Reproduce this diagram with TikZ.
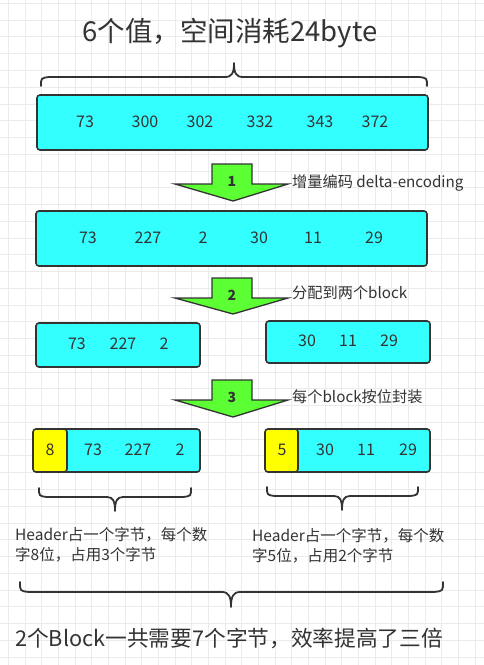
\documentclass[tikz,border=0pt]{standalone}
\usepackage{fontspec}
\setmainfont{Noto Sans CJK SC}
\definecolor{cyanc}{HTML}{33FFFF}
\definecolor{yellowc}{HTML}{FFFF00}
\definecolor{greenc}{HTML}{5CFF33}
\definecolor{linec}{HTML}{333333}
\definecolor{txt}{HTML}{333333}
\definecolor{gridc}{HTML}{EBEBEB}
\begin{document}
\begin{tikzpicture}[x=1pt,y=-1pt,
  box/.style={draw=linec, line width=1.6pt, fill=cyanc, rounded corners=3pt, inner sep=0pt},
  hdr/.style={draw=linec, line width=1.6pt, fill=yellowc, rounded corners=3pt, inner sep=0pt},
  num/.style={font=\fontsize{16}{18}\selectfont, text=txt, inner sep=0pt},
  lbl/.style={font=\fontsize{15.2}{18}\selectfont, text=txt, anchor=west, inner sep=0pt},
  note/.style={font=\fontsize{15.5}{20}\selectfont, text=txt, anchor=north west, align=left, inner sep=0pt},
  brc/.style={draw=linec, line width=1.8pt, line cap=round, line join=round},
  barrow/.style={draw=linec, line width=1.3pt, fill=greenc, line join=miter},
  stepnum/.style={font=\bfseries\fontsize{14}{16}\selectfont, text=txt, inner sep=0pt},
  gridline/.style={draw=gridc, line width=0.7pt}]
\useasboundingbox (0,0) rectangle (484,665);
\fill[white] (0,0) rectangle (484,665);
\foreach \i in {0,...,28} \draw[gridline] ({8.3+16.67*\i},0) -- ++(0,665);
\foreach \j in {0,...,39} \draw[gridline] (0,{3.3+16.76*\j}) -- ++(484,0);

% title
\node[font=\fontsize{27.5}{31}\selectfont, text=txt, inner sep=0pt] (title) at (230,33) {6个值，空间消耗24byte};

% top brace
\draw[brc] (41,86) .. controls (41,78) .. (49,77) -- (225,77) .. controls (232,77) and (234,73) .. (234,63)
  .. controls (234,73) and (236,77) .. (243,77) -- (419,77) .. controls (427,78) .. (427,86);

% box 1
\node[box, minimum width=391pt, minimum height=55pt] (b1) at (232.5,122.5) {};
\node[num] (n11) at (85,122) {73};
\node[num] (n12) at (145,122) {300};
\node[num] (n13) at (200,122) {302};
\node[num] (n14) at (260,122) {332};
\node[num] (n15) at (320,122) {343};
\node[num] (n16) at (375,122) {372};

% arrow 1
\draw[barrow] (212,164) -- (252,164) -- (252,184) -- (288,184) -- (233,201) -- (175,184) -- (212,184) -- cycle;
\node[stepnum] (s1) at (232,181) {1};
\node[lbl] (l1) at (292,183) {增量编码 delta-encoding};

% box 2
\node[box, minimum width=391pt, minimum height=55pt] (b2) at (231.5,238.5) {};
\node[num] (n21) at (88,238) {73};
\node[num] (n22) at (148,238) {227};
\node[num] (n23) at (203,238) {2};
\node[num] (n24) at (259,238) {30};
\node[num] (n25) at (313,238) {11};
\node[num] (n26) at (374,238) {29};

% arrow 2
\draw[barrow] (212,278) -- (252,278) -- (252,298) -- (288,298) -- (233,314) -- (175,298) -- (212,298) -- cycle;
\node[stepnum] (s2) at (232,295) {2};
\node[lbl] (l2) at (292,293) {分配到两个block};

% boxes 3
\node[box, minimum width=164pt, minimum height=44pt] (b3a) at (118,345) {};
\node[num] (n31) at (77,344) {73};
\node[num] (n32) at (123,344) {227};
\node[num] (n33) at (164,344) {2};
\node[box, minimum width=164pt, minimum height=42pt] (b3b) at (348,342) {};
\node[num] (n34) at (307,341) {30};
\node[num] (n35) at (348,341) {11};
\node[num] (n36) at (389,341) {29};

% arrow 3
\draw[barrow] (212,380) -- (252,380) -- (252,400) -- (288,400) -- (233,417) -- (175,400) -- (212,400) -- cycle;
\node[stepnum] (s3) at (232,397) {3};
\node[lbl] (l3) at (292,397) {每个block按位封装};

% boxes 4
\node[box, minimum width=138pt, minimum height=43pt] (b4a) at (131,450.5) {};
\node[hdr, minimum width=34pt, minimum height=43pt] (h4a) at (50,450.5) {};
\node[num] (n40) at (50,450) {8};
\node[num] (n41) at (93,450) {73};
\node[num] (n42) at (138,450) {227};
\node[num] (n43) at (180,450) {2};
\node[box, minimum width=137pt, minimum height=43pt] (b4b) at (361.5,450.5) {};
\node[hdr, minimum width=33pt, minimum height=43pt] (h4b) at (281.5,450.5) {};
\node[num] (n44) at (282,450) {5};
\node[num] (n45) at (325,450) {30};
\node[num] (n46) at (366,450) {11};
\node[num] (n47) at (408,450) {29};

% braces 4
\draw[brc] (39,488) .. controls (39,496) .. (47,497) -- (107,497) .. controls (113,497) and (115,501) .. (115,511)
  .. controls (115,501) and (117,497) .. (123,497) -- (183,497) .. controls (191,496) .. (191,488);
\draw[brc] (267,487) .. controls (267,495) .. (275,496) -- (334,496) .. controls (340,496) and (342,500) .. (342,510)
  .. controls (342,500) and (344,496) .. (350,496) -- (410,496) .. controls (418,495) .. (418,487);

\node[note] (t4a) at (15,527) {Header占一个字节，每个数\\字8位，占用3个字节};
\node[note] (t4b) at (252,528) {Header占一个字节，每个数\\字5位，占用2个字节};

% bottom brace
\draw[brc] (20,582) .. controls (20,591) .. (29,592) -- (222,592) .. controls (229,592) and (231,597) .. (231,607)
  .. controls (231,597) and (233,592) .. (240,592) -- (434,592) .. controls (443,591) .. (443,582);

\node[font=\fontsize{21.7}{25}\selectfont, text=txt, anchor=west, inner sep=0pt] (bottom) at (15,638) {2个Block一共需要7个字节，效率提高了三倍};
\end{tikzpicture}
\end{document}
